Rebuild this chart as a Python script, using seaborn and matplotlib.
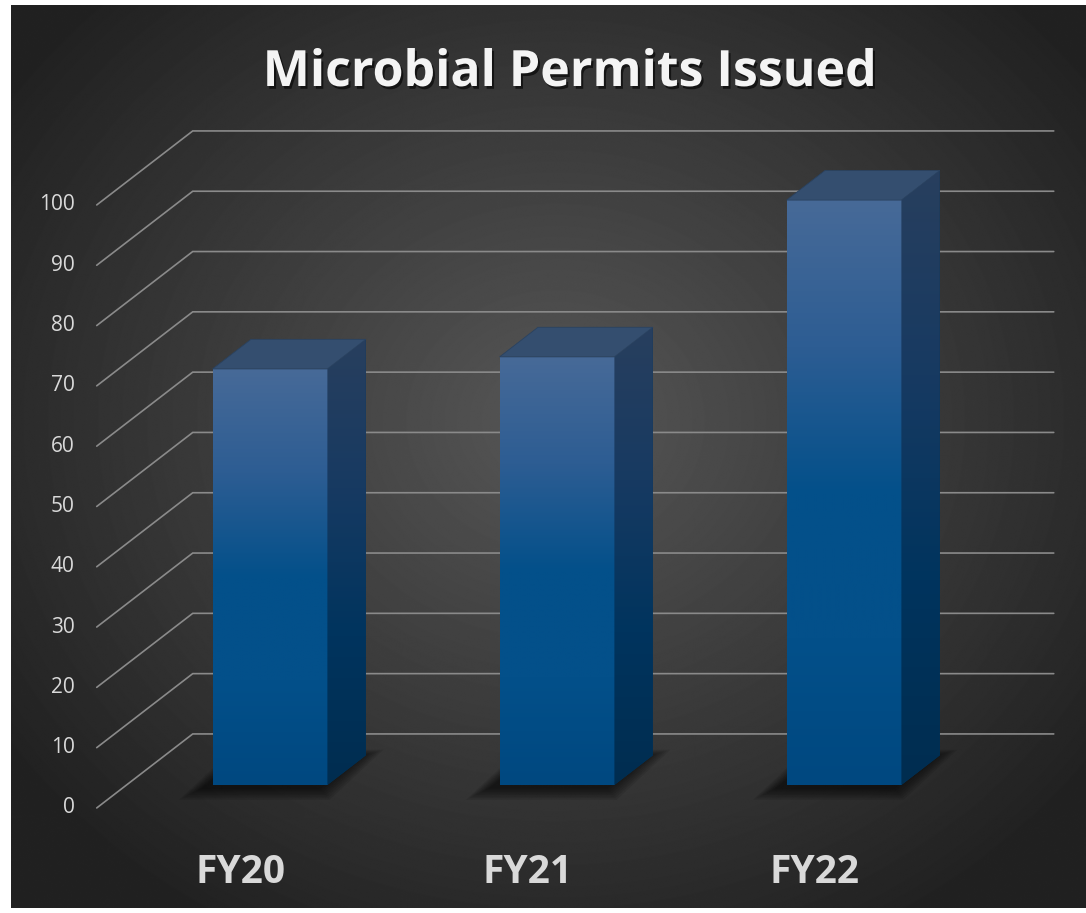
import matplotlib

matplotlib.use("Agg")
import matplotlib.patheffects as pe
import matplotlib.pyplot as plt
import numpy as np
import pandas as pd
import seaborn as sns
from matplotlib.colors import LinearSegmentedColormap
from matplotlib.patches import Polygon

categories = ["FY20", "FY21", "FY22"]
permits = [69, 71, 97]
y_ticks = list(range(0, 101, 10))
title = "Microbial Permits Issued"

W, H = 1086, 913
PX_PER_UNIT = 6.03
# fake 3D: offset of the full floor depth, in data units
DEPTH_X = 96 / 287
DEPTH_Y = 74 / PX_PER_UNIT
BAR_T0, BAR_T1 = 0.31, 0.71
BAR_WIDTH = 0.4
Y_TOP = 120
GRID = "#8a8a8a"
TEXT = "#d9d9d9"


def proj(x, v, t):
    """Shift a point on the bar front plane to depth t (0 = front, 1 = back wall)."""
    return x + (t - BAR_T0) * DEPTH_X, v + (t - BAR_T0) * DEPTH_Y


def gradient_fill(ax, patch, colors, extent, zorder):
    cmap = LinearSegmentedColormap.from_list("g", colors)
    grad = np.linspace(0, 1, 256).reshape(-1, 1)
    im = ax.imshow(grad, cmap=cmap, extent=extent, origin="lower",
                   aspect="auto", zorder=zorder, interpolation="bilinear")
    im.set_clip_path(patch)


sns.set_theme(style="white")
plt.rcParams["font.family"] = ["Open Sans", "DejaVu Sans"]

fig = plt.figure(figsize=(W / 100, H / 100), dpi=100)
fig.patch.set_facecolor("white")

# dark radial background
bg = fig.add_axes([0, 0, 1, 1])
bg.set_xlim(0, W)
bg.set_ylim(H, 0)
bg.axis("off")
yy, xx = np.mgrid[0:H, 0:W]
r = np.hypot((xx - 550) / 640, (yy - 420) / 560)
shade = np.clip(0.34 - 0.2 * r, 0.13, 0.34)
bg.imshow(shade, cmap="gray", vmin=0, vmax=1, extent=(11, W, 908, 5), aspect="auto")

ax = fig.add_axes([126.5 / W, (H - 785) / H, 861 / W, Y_TOP * PX_PER_UNIT / H])
ax.patch.set_alpha(0)

# walls: back gridlines and left diagonals
for v in y_ticks:
    xa, ya = proj(-0.5, v, 1)
    xb, yb = proj(2.5, v, 1)
    xf, yf = proj(-0.5, v, 0)
    ax.plot([xf, xa, xb], [yf, ya, yb], color=GRID, lw=1.2, zorder=1,
            clip_on=False, solid_joinstyle="miter")
    ax.annotate(str(v), xy=(xf, yf), xytext=(-22, 0), textcoords="offset pixels",
                ha="right", va="center", fontsize=15, color=TEXT, annotation_clip=False)

df = pd.DataFrame({"year": categories, "permits": permits})
sns.barplot(data=df, x="year", y="permits", ax=ax, color="#024b86",
            saturation=1, width=BAR_WIDTH, zorder=3)

dx = (BAR_T1 - BAR_T0) * DEPTH_X
dy = (BAR_T1 - BAR_T0) * DEPTH_Y

for i, bar in enumerate(list(ax.patches)):
    x0 = bar.get_x()
    x1 = x0 + bar.get_width()
    v = bar.get_height()
    bar.set_edgecolor("none")

    # soft shadow on the floor
    for k in range(8):
        e = (8 - k) * 3.2
        ex, ey = e / 287, e / PX_PER_UNIT
        sx, sy = -8 / 287, -2 / PX_PER_UNIT
        foot = [(x0 - ex + sx, -ey * 0.5 + sy), (x1 + ex * 0.4 + sx, -ey * 0.5 + sy),
                (x1 + dx + ex + sx, dy + ey * 0.3 + sy), (x0 + dx - ex * 0.4 + sx, dy + ey * 0.3 + sy)]
        ax.add_patch(Polygon(foot, closed=True, facecolor="black", edgecolor="none",
                             alpha=0.09, zorder=2, clip_on=False))

    gradient_fill(ax, bar, ["#004880", "#03508a", "#03508a", "#2d5d93", "#476a98"],
                  (x0, x1, 0, v), zorder=3.1)

    side = Polygon([(x1, 0), (x1 + dx, dy), (x1 + dx, v + dy), (x1, v)],
                   closed=True, facecolor="#00345c", edgecolor="none", zorder=3)
    ax.add_patch(side)
    gradient_fill(ax, side, ["#002d50", "#00345e", "#173a62", "#283f5e"],
                  (x1, x1 + dx, 0, v + dy), zorder=3.1)

    top = Polygon([(x0, v), (x1, v), (x1 + dx, v + dy), (x0 + dx, v + dy)],
                  closed=True, facecolor="#344e6f", edgecolor="#2a4260", lw=0.6, zorder=3.2)
    ax.add_patch(top)

    xl, yl = proj(i, 0, 0)
    ax.annotate(categories[i], xy=(xl, yl), xytext=(0, -75), textcoords="offset pixels",
                ha="center", va="baseline", fontsize=28, fontweight="bold",
                color=TEXT, annotation_clip=False)

ax.set_xlim(-0.5, 2.5)
ax.set_ylim(0, Y_TOP)
ax.axis("off")

fig.text(570 / W, 1 - 86 / H, title, ha="center", va="baseline", fontsize=36,
         fontweight="bold", color="#f4f4f4",
         path_effects=[pe.withSimplePatchShadow(offset=(1.5, -2), shadow_rgbFace="black", alpha=0.6)])

fig.savefig("out.png", dpi=100)
